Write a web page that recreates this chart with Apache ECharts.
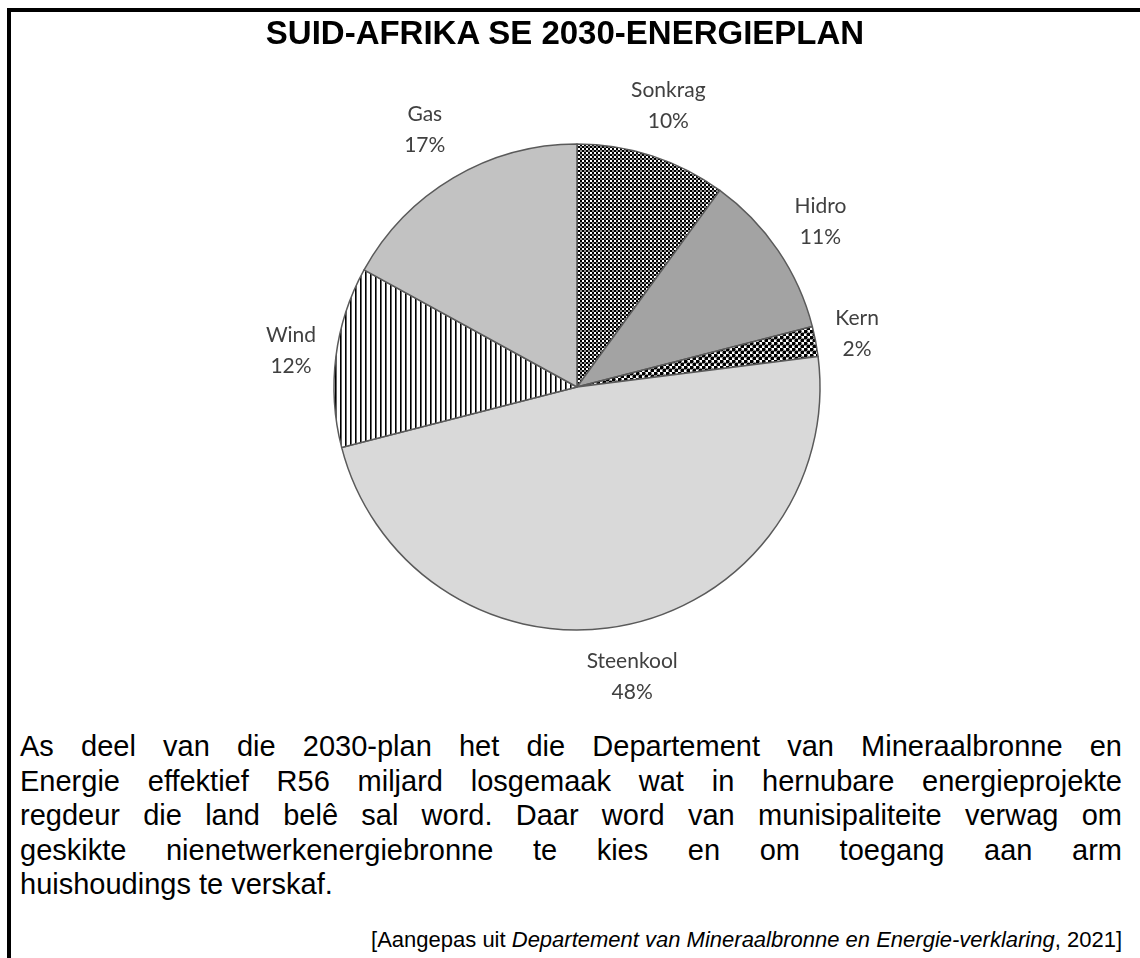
<!DOCTYPE html>
<html>
<head>
<meta charset="utf-8">
<title>Suid-Afrika se 2030-energieplan</title>
<script src="https://cdn.jsdelivr.net/npm/echarts@6/dist/echarts.min.js"></script>
<style>
  body { margin: 0; background: #fff; }
  #page { position: relative; width: 1140px; height: 958px; overflow: hidden; font-family: 'Liberation Sans', Arial, sans-serif; color: #000; }
  #frame { position: absolute; left: 7px; top: 8px; width: 1200px; height: 1000px; border-left: 4px solid #000; border-top: 4px solid #000; }
  #chart { position: absolute; left: 0; top: 0; width: 1140px; height: 720px; }
  #title { position: absolute; left: 0; width: 1130px; top: 13px; line-height: 40px; text-align: center; font-weight: bold; font-size: 33px; }
  #text { position: absolute; left: 20px; top: 729px; width: 1102px; font-size: 29px; line-height: 34.5px; }
  #text div { text-align: justify; text-align-last: justify; white-space: nowrap; }
  #text div.last { text-align-last: left; }
  #bron { position: absolute; right: 18px; top: 926px; font-size: 22px; line-height: 28px; }
</style>
</head>
<body>
<div id="page">
  <div id="frame"></div>
  <div id="chart"></div>
  <div id="title">SUID-AFRIKA SE 2030-ENERGIEPLAN</div>
  <div id="text"></div>
  <div id="bron">[Aangepas uit <i>Departement van Mineraalbronne en Energie-verklaring</i>, 2021]</div>
</div>
<script>
// energiebronne, kloksgewys vanaf bo
var sources = ['Sonkrag', 'Hidro', 'Kern', 'Steenkool', 'Wind', 'Gas'];
var shares = [10, 11, 2, 48, 12, 17];

var paragraph = [
  'As deel van die 2030-plan het die Departement van Mineraalbronne en',
  'Energie effektief R56 miljard losgemaak wat in hernubare energieprojekte',
  'regdeur die land belê sal word. Daar word van munisipaliteite verwag om',
  'geskikte nienetwerkenergiebronne te kies en om toegang aan arm',
  'huishoudings te verskaf.'
];

var textBox = document.getElementById('text');
paragraph.forEach(function (line, i) {
  var d = document.createElement('div');
  d.textContent = line;
  if (i === paragraph.length - 1) d.className = 'last';
  textBox.appendChild(d);
});

// patrone vir die gearseerde skywe
function tile(w, h, bg, draw) {
  var c = document.createElement('canvas');
  c.width = w; c.height = h;
  var ctx = c.getContext('2d');
  ctx.fillStyle = bg;
  ctx.fillRect(0, 0, w, h);
  ctx.fillStyle = '#000';
  draw(ctx);
  return { image: c, repeat: 'repeat' };
}
var checker = tile(4, 4, '#fff', function (ctx) {
  ctx.fillRect(0, 0, 2, 2);
  ctx.fillRect(2, 2, 2, 2);
  ctx.fillStyle = '#8c8c8c';
  ctx.fillRect(0, 2, 2, 2);
});
var dots = tile(6, 6, '#fff', function (ctx) {
  ctx.beginPath(); ctx.arc(1.5, 1.5, 2.1, 0, Math.PI * 2); ctx.fill();
  ctx.beginPath(); ctx.arc(4.5, 4.5, 2.1, 0, Math.PI * 2); ctx.fill();
});
var stripes = tile(5, 4, '#fff', function (ctx) {
  ctx.fillRect(0, 0, 1.6, 4);
});

var fills = [checker, '#a3a3a3', dots, '#d9d9d9', stripes, '#c2c2c2'];

var CX = 577, CY = 387, R = 243, GAP = 20;
var total = shares.reduce(function (a, b) { return a + b; }, 0);

var chart = echarts.init(document.getElementById('chart'));
chart.setOption({
  animation: false,
  series: [{
    type: 'pie',
    center: [CX, CY],
    radius: R,
    startAngle: 90,
    clockwise: true,
    silent: true,
    data: sources.map(function (s, i) {
      return { name: s, value: shares[i], itemStyle: { color: fills[i] } };
    }),
    itemStyle: { borderColor: '#5a5a5a', borderWidth: 1.5 },
    label: {
      show: true,
      position: 'outside',
      formatter: '{b}\n{c}%',
      fontFamily: 'Lato, "Open Sans", sans-serif',
      fontSize: 21,
      lineHeight: 31,
      color: '#404040',
      align: 'center'
    },
    labelLine: { show: false },
    labelLayout: function (p) {
      var before = 0;
      for (var k = 0; k < p.dataIndex; k++) before += shares[k];
      var mid = (before + shares[p.dataIndex] / 2) / total * Math.PI * 2;
      var sx = Math.sin(mid), sy = -Math.cos(mid);
      var hw = p.labelRect.width / 2, hh = p.labelRect.height / 2;
      var reach = Math.min(
        Math.abs(sx) > 1e-6 ? hw / Math.abs(sx) : Infinity,
        Math.abs(sy) > 1e-6 ? hh / Math.abs(sy) : Infinity
      );
      var d = R + GAP + reach;
      return { x: CX + sx * d, y: CY + sy * d, align: 'center', verticalAlign: 'middle' };
    }
  }]
});
</script>
</body>
</html>
